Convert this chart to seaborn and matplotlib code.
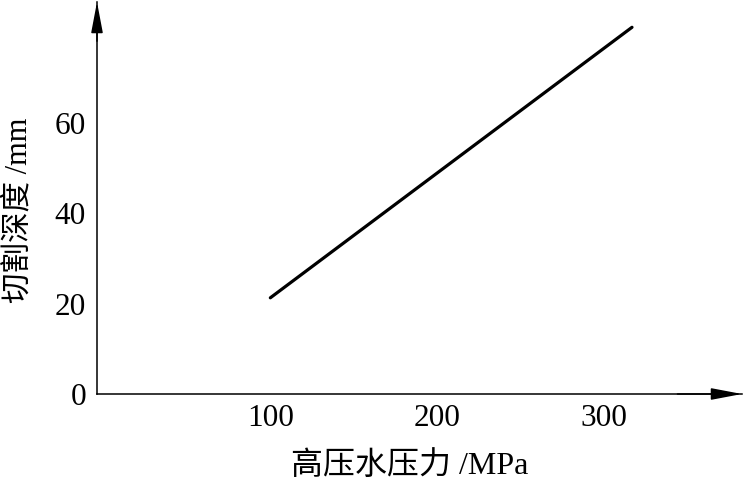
import matplotlib
matplotlib.use("Agg")
import matplotlib.pyplot as plt
import seaborn as sns
import pandas as pd

# data
pressure = [100, 317]          # MPa
depth = [21.3, 81.2]           # mm
x_ticks = [100, 200, 300]
y_ticks = [0, 20, 40, 60]
x_label = "高压水压力 /MPa"
y_label = "切割深度 /mm"

sns.set_style("white")
plt.rcParams["font.family"] = ["Liberation Serif", "Noto Sans CJK SC"]

fig = plt.figure(figsize=(7.45, 4.82), dpi=100)
ax = fig.add_axes([97 / 745, 88 / 482, (742 - 97) / 745, (394 - 2) / 482])

df = pd.DataFrame({"p": pressure, "d": depth})
sns.lineplot(data=df, x="p", y="d", ax=ax, color="black", linewidth=2.3)

ax.set_xlim(-4, 383)
ax.set_ylim(0, 86.8)
ax.set_xticks(x_ticks)
ax.set_yticks(y_ticks)
ax.tick_params(axis="both", direction="in", length=10.5, width=1.0,
               labelsize=22.5, color="black", labelcolor="black")
ax.tick_params(axis="x", pad=7)
ax.tick_params(axis="y", pad=8)

for s in ["top", "right"]:
    ax.spines[s].set_visible(False)
for s in ["left", "bottom"]:
    ax.spines[s].set_color("black")
    ax.spines[s].set_linewidth(1.1)

# arrow heads on the axes
arrow = dict(arrowstyle="-|>,head_length=1.9,head_width=0.36",
             color="black", lw=1.1, shrinkA=0, shrinkB=0)
ax.annotate("", xy=(1.0, 0), xytext=(0.9, 0), xycoords="axes fraction",
            arrowprops=arrow, annotation_clip=False)
ax.annotate("", xy=(0, 1.0), xytext=(0, 0.9), xycoords="axes fraction",
            arrowprops=arrow, annotation_clip=False)

ax.set_xlabel(x_label, fontsize=23, color="black")
ax.set_ylabel(y_label, fontsize=22, color="black")
ax.xaxis.set_label_coords((410 - 97) / 645, -(451 - 394) / 392)
ax.yaxis.set_label_coords(-(97 - 33) / 645, (394 - 210) / 392)

fig.savefig("out.png", dpi=100)
